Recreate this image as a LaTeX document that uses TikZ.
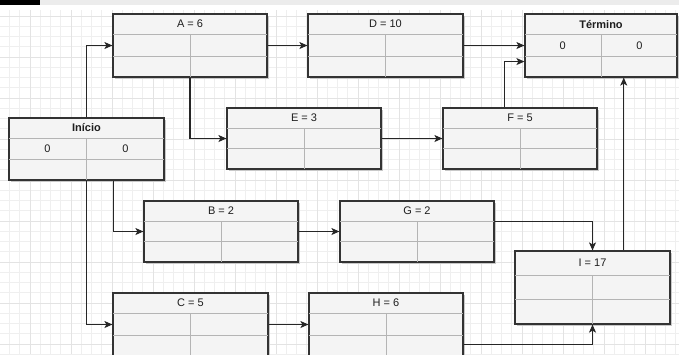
\documentclass[tikz,border=0pt]{standalone}
\usepackage{fontspec}
\setmainfont{Liberation Sans}
\usetikzlibrary{calc,arrows.meta}
\definecolor{boxfill}{HTML}{F4F4F4}
\definecolor{boxline}{HTML}{333333}
\definecolor{cellcol}{HTML}{B4B4B4}
\definecolor{shadowcol}{HTML}{C8C8C8}
\definecolor{gridminor}{HTML}{EFEFEF}
\definecolor{gridmajor}{HTML}{E3E3E3}
\definecolor{headbar}{HTML}{ECECEC}
\definecolor{txt}{HTML}{1E1E1E}
\tikzset{
  tbox/.style={draw=boxline, line width=1.2pt, fill=boxfill, rectangle, inner sep=0pt},
  cellline/.style={draw=cellcol, line width=0.8pt},
  lbl/.style={font=\fontsize{11}{13}\selectfont, text=txt, inner sep=0pt},
  conn/.style={draw=black!85, line width=1.1pt, -{Stealth[length=8pt,width=7pt,inset=2pt]}},
}
\newcommand\taskbox[8]{%
  \fill[shadowcol] ({#2+2},{#3+2}) rectangle ({#4+2},{#5+2});
  \node[tbox, minimum width={(#4-#2)*1pt}, minimum height={(#5-#3)*1pt}] (#1) at ({(#2+#4)/2},{(#3+#5)/2}) {};
  \draw[cellline] ($(#1.north west)!1/3!(#1.south west)$) -- ($(#1.north east)!1/3!(#1.south east)$);
  \draw[cellline] ($(#1.north west)!2/3!(#1.south west)$) -- ($(#1.north east)!2/3!(#1.south east)$);
  \draw[cellline] ($(#1.north)!1/3!(#1.south)$) -- (#1.south);
  \draw[boxline, line width=1.2pt] (#1.north west) rectangle (#1.south east);
  \node[lbl] (#1-t) at ($(#1.north)!1/6!(#1.south)$) {#6};
  \node[lbl] (#1-l) at ($(#1.west)!1/4!(#1.east)$) {#7};
  \node[lbl] (#1-r) at ($(#1.west)!3/4!(#1.east)$) {#8};
}
\begin{document}
\begin{tikzpicture}[x=1pt,y=-1pt]
\useasboundingbox (0,0) rectangle (679,354);
\fill[white] (0,0) rectangle (679,354);
% grid
\foreach \i in {0,...,67} {
  \draw[gridminor, line width=0.6pt] ({-0.75+\i*10.25},10) -- ({-0.75+\i*10.25},354);
}
\foreach \j in {0,...,34} {
  \draw[gridminor, line width=0.6pt] (0,{16+\j*10.25}) -- (679,{16+\j*10.25});
}
\foreach \i in {0,...,16} {
  \draw[gridmajor, line width=0.8pt] ({30+(\i-1)*41},10) -- ({30+(\i-1)*41},354);
}
\foreach \j in {0,...,8} {
  \draw[gridmajor, line width=0.8pt] (0,{16+\j*41}) -- (679,{16+\j*41});
}
% header strip
\fill[headbar] (0,0) rectangle (679,4.5);
\fill[black] (0,0) rectangle (40,4.5);
% boxes
\taskbox{A}{113}{14}{267}{77}{A = 6}{}{}
\taskbox{D}{308}{14}{463}{77}{D = 10}{}{}
\taskbox{T}{525}{14}{677}{77}{\textbf{Término}}{0}{0}
\taskbox{ini}{9}{118}{164}{180}{\textbf{Início}}{0}{0}
\taskbox{E}{227}{108}{381}{169}{E = 3}{}{}
\taskbox{F}{443}{108}{597}{169}{F = 5}{}{}
\taskbox{B}{144}{201}{298}{262}{B = 2}{}{}
\taskbox{G}{340}{201}{494}{262}{G = 2}{}{}
\taskbox{C}{113}{293}{268}{356}{C = 5}{}{}
\taskbox{H}{309}{293}{463}{356}{H = 6}{}{}
\taskbox{I}{515}{251}{670}{324}{I = 17}{}{}
% connectors
\draw[conn] (ini.north) |- (A.west);
\draw[conn] (A.east) -- (D.west);
\draw[conn] (A.south) |- (E.west);
\draw[conn] (D.east) -- (T.west);
\draw[conn] (E.east) -- (F.west);
\coordinate (Fo) at ($(F.north west)!0.4!(F.north east)$);
\coordinate (Ti) at ($(T.west)!0.5!(T.south west)$);
\draw[conn] (Fo) |- (Ti);
\coordinate (Io) at ($(I.north west)!0.7!(I.north east)$);
\draw[conn] (Io) -- (Io |- T.south);
\coordinate (iniB) at ($(ini.south west)!0.67!(ini.south east)$);
\draw[conn] (iniB) |- (B.west);
\draw[conn] (ini.south) |- (C.west);
\draw[conn] (B.east) -- (G.west);
\draw[conn] (C.east) -- (H.west);
\coordinate (Go) at ($(G.north east)!1/3!(G.south east)$);
\draw[conn] (Go) -| (I.north);
\coordinate (Ho) at ($(H.north east)!51/63!(H.south east)$);
\draw[conn] (Ho) -| (I.south);
\end{tikzpicture}
\end{document}
